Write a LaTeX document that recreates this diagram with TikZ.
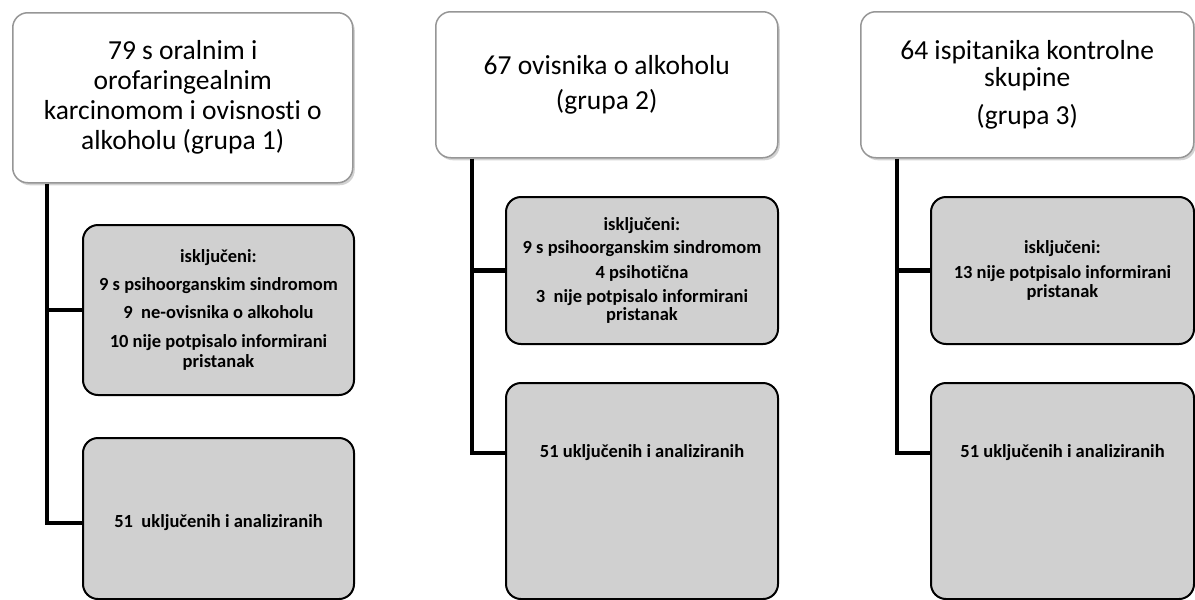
\documentclass[tikz,border=0pt]{standalone}
\usepackage{fontspec}
\setmainfont{Carlito}[Ligatures=NoCommon]
\usetikzlibrary{shadows,calc}
\definecolor{boxgrey}{RGB}{208,208,208}
\definecolor{topborder}{RGB}{150,150,150}
\tikzset{
  topbox/.style={draw=topborder, line width=1.5pt, fill=white, rounded corners=15pt,
    anchor=north west, align=center, inner sep=0pt,
    font=\fontsize{27.5}{30}\selectfont,
    drop shadow={shadow xshift=2pt, shadow yshift=-2.5pt, opacity=0.35, fill=gray}},
  greybox/.style={draw=black, line width=2pt, fill=boxgrey, rounded corners=15pt,
    anchor=north west, align=center, inner sep=0pt,
    font=\fontsize{18.5}{21}\selectfont\bfseries},
  greytext/.style={font=\fontsize{18.5}{21}\selectfont\bfseries, inner sep=0pt},
  conn/.style={draw=black, line width=4.5pt},
}
\begin{document}
\begin{tikzpicture}[x=1pt,y=-1pt]
\useasboundingbox (0,0) rectangle (1195,600);

% column 1
\node[topbox, minimum width=340pt, minimum height=170pt] (top1) at (12,12)
  {79 s oralnim i\\ orofaringealnim\\ karcinomom i ovisnosti o\\ alkoholu (grupa 1)};
\node[greybox, minimum width=271pt, minimum height=170pt] (m1) at (82,224)
  {isključeni:\\[7pt] 9 s psihoorganskim sindromom\\[7pt] 9\ \ ne-ovisnika o alkoholu\\[8pt] 10 nije potpisalo informirani\\[-1pt] pristanak};
\node[greybox, minimum width=271pt, minimum height=161pt] (b1) at (82,437) {};
\coordinate (c1) at ($(b1.north west)+(0,86)$);
\node[greytext] (b1t) at (c1 -| b1.center) {51\ \ uključenih i analiziranih};
\coordinate (s1) at ($(top1.south west)+(35,0)$);
\draw[conn] (s1) |- (c1);
\draw[conn] (m1.west) -- (m1.west -| s1);

% column 2
\node[topbox, minimum width=342pt, minimum height=146pt] (top2) at (435,11)
  {67 ovisnika o alkoholu\\[5pt] (grupa 2)};
\node[greybox, minimum width=272pt, minimum height=147pt] (m2) at (505,196)
  {isključeni:\\[2pt] 9 s psihoorganskim sindromom\\[4pt] 4 psihotična\\[3pt] 3\ \ nije potpisalo informirani\\[-3pt] pristanak};
\node[greybox, minimum width=272pt, minimum height=216pt] (b2) at (505,382) {};
\coordinate (c2) at ($(b2.north west)+(0,71)$);
\node[greytext] (b2t) at (c2 -| b2.center) {51 uključenih i analiziranih};
\coordinate (s2) at ($(top2.south west)+(37,0)$);
\draw[conn] (s2) |- (c2);
\draw[conn] (m2.west) -- (m2.west -| s2);

% column 3
\node[topbox, minimum width=333pt, minimum height=146pt] (top3) at (860,11)
  {64 ispitanika kontrolne\\[-3pt] skupine\\[8pt] (grupa 3)};
\node[greybox, minimum width=263pt, minimum height=147pt] (m3) at (930,196)
  {isključeni:\\[4pt] 13 nije potpisalo informirani\\[-2pt] pristanak};
\node[greybox, minimum width=263pt, minimum height=216pt] (b3) at (930,382) {};
\coordinate (c3) at ($(b3.north west)+(0,71)$);
\node[greytext] (b3t) at (c3 -| b3.center) {51 uključenih i analiziranih};
\coordinate (s3) at ($(top3.south west)+(37,0)$);
\draw[conn] (s3) |- (c3);
\draw[conn] (m3.west) -- (m3.west -| s3);
\end{tikzpicture}
\end{document}
